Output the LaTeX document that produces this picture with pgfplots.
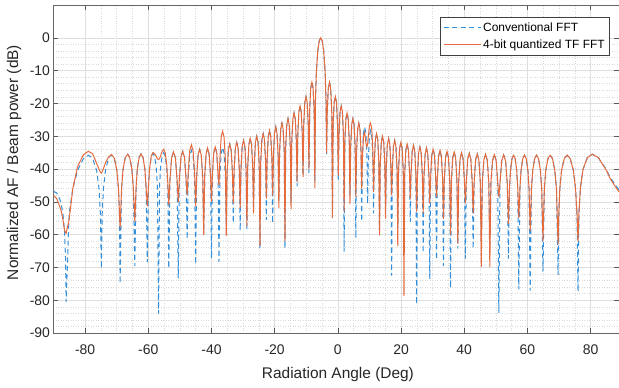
\documentclass[border=0pt]{standalone}
\usepackage{pgfplots}
\usepackage{pgfplotstable}
\pgfplotsset{compat=1.18}
\usepackage{fontspec}
\setmainfont{Liberation Sans}
\definecolor{mblue}{rgb}{0.20,0.56,0.85}
\definecolor{morange}{rgb}{0.90,0.42,0.24}
\pgfplotstableread{
x b o
-90.00 -46.8 -48.0
-89.00 -47.3 -49.0
-88.00 -49.2 -51.5
-87.50 -51.0 -53.0
-87.00 -53.8 -55.5
-86.50 -59.3 -58.6
-86.20 -66.8 -59.4
-86.00 -80.5 -59.6
-85.05 -53.8 -55.5
-83.90 -46.0 -46.0
-82.36 -40.4 -39.2
-80.50 -36.8 -35.6
-78.94 -35.8 -34.6
-77.58 -36.8 -35.4
-76.35 -40.4 -38.3
-75.59 -46.0 -40.0
-75.15 -53.8 -41.0
-74.85 -70.3 -41.2
-74.58 -53.6 -40.9
-74.17 -45.8 -39.8
-73.51 -40.2 -38.0
-72.56 -36.6 -36.3
-71.65 -35.6 -35.6
-70.79 -36.6 -36.6
-69.97 -40.2 -40.2
-69.43 -45.8 -45.8
-69.12 -53.6 -53.6
-68.91 -74.9 -58.1
-68.44 -45.7 -45.7
-67.98 -40.1 -40.1
-67.28 -36.5 -36.5
-66.50 -35.5 -35.5
-65.89 -36.5 -36.5
-65.19 -40.1 -40.1
-64.73 -45.7 -45.7
-64.26 -69.5 -56.0
-63.86 -45.6 -45.6
-63.47 -40.0 -40.0
-62.87 -36.4 -36.4
-62.28 -35.4 -35.4
-61.68 -36.4 -36.4
-61.08 -40.0 -40.0
-60.69 -45.6 -45.6
-60.29 -68.4 -51.4
-59.94 -45.4 -45.4
-59.58 -39.8 -39.8
-59.05 -36.2 -36.0
-58.52 -35.2 -35.0
-57.99 -36.2 -35.3
-57.46 -39.8 -36.2
-57.10 -45.4 -36.9
-56.75 -84.1 -37.1
-56.43 -45.2 -36.8
-56.10 -39.6 -36.0
-55.62 -36.0 -34.6
-55.13 -35.0 -34.0
-54.64 -36.0 -35.0
-54.16 -39.6 -38.6
-53.83 -45.2 -44.2
-53.51 -70.3 -51.0
-53.15 -43.5 -43.5
-52.61 -36.6 -36.6
-52.01 -34.8 -34.8
-51.41 -36.6 -36.6
-50.87 -43.5 -43.5
-50.51 -73.3 -50.0
-50.17 -43.3 -43.3
-49.66 -36.4 -36.4
-49.10 -34.6 -34.6
-48.54 -36.4 -36.4
-48.03 -43.3 -43.3
-47.69 -61.4 -48.0
-47.37 -43.0 -41.3
-46.89 -36.1 -34.4
-46.35 -34.3 -32.6
-45.81 -36.1 -34.4
-45.33 -43.0 -41.3
-45.01 -69.0 -51.4
-44.70 -42.7 -42.7
-44.24 -35.8 -35.8
-43.73 -34.0 -34.0
-43.22 -35.8 -35.8
-42.76 -42.7 -42.7
-42.45 -60.0 -60.1
-42.15 -42.3 -42.3
-41.71 -35.5 -35.5
-41.22 -33.6 -33.6
-40.73 -35.5 -35.5
-40.29 -42.3 -42.3
-39.99 -67.3 -50.0
-39.71 -42.0 -42.0
-39.28 -35.1 -35.1
-38.81 -33.3 -33.3
-38.33 -35.1 -35.1
-37.90 -42.0 -42.0
-37.62 -68.3 -45.0
-37.34 -42.1 -37.2
-36.93 -35.2 -30.3
-36.47 -33.4 -28.5
-36.01 -35.2 -30.3
-35.60 -42.1 -37.2
-35.32 -57.0 -60.3
-35.05 -41.1 -41.1
-34.65 -34.2 -34.2
-34.21 -32.4 -32.4
-33.76 -34.2 -34.2
-33.36 -41.1 -41.1
-33.09 -56.5 -50.5
-32.83 -40.5 -40.5
-32.44 -33.7 -33.7
-32.00 -31.9 -31.9
-31.56 -33.7 -33.7
-31.17 -40.5 -40.5
-30.91 -58.8 -52.0
-30.65 -40.0 -40.0
-30.27 -33.1 -33.1
-29.85 -31.3 -31.3
-29.42 -33.1 -33.1
-29.04 -40.0 -40.0
-28.78 -58.6 -57.5
-28.53 -39.3 -39.3
-28.15 -32.5 -32.5
-27.74 -30.7 -30.7
-27.32 -32.5 -32.5
-26.94 -39.3 -39.3
-26.69 -52.0 -53.5
-26.44 -38.6 -38.6
-26.08 -31.8 -31.8
-25.67 -30.0 -30.0
-25.26 -31.8 -31.8
-24.89 -38.6 -38.6
-24.64 -64.2 -63.5
-24.40 -37.8 -37.8
-24.03 -31.0 -31.0
-23.63 -29.2 -29.2
-23.23 -31.0 -31.0
-22.86 -37.8 -37.8
-22.62 -55.5 -49.0
-22.38 -36.9 -36.9
-22.02 -30.1 -30.1
-21.63 -28.3 -28.3
-21.23 -30.1 -30.1
-20.87 -36.9 -36.9
-20.63 -56.5 -48.0
-20.39 -35.9 -35.9
-20.04 -29.1 -29.1
-19.65 -27.2 -27.2
-19.26 -29.1 -29.1
-18.91 -35.9 -35.9
-18.67 -50.0 -51.9
-18.44 -34.7 -34.7
-18.09 -27.9 -27.9
-17.70 -26.0 -26.0
-17.31 -27.9 -27.9
-16.96 -34.7 -34.7
-16.73 -64.2 -62.0
-16.50 -33.3 -33.3
-16.15 -26.5 -26.5
-15.77 -24.6 -24.6
-15.39 -26.5 -26.5
-15.04 -33.3 -33.3
-14.81 -50.0 -52.2
-14.58 -31.6 -31.6
-14.24 -24.8 -24.8
-13.86 -22.9 -22.9
-13.47 -24.8 -24.8
-13.13 -31.6 -31.6
-12.90 -45.3 -44.0
-12.67 -29.5 -29.5
-12.33 -22.6 -22.6
-11.96 -20.8 -20.8
-11.58 -22.6 -22.6
-11.24 -29.5 -29.5
-11.01 -42.0 -42.5
-10.79 -26.6 -26.6
-10.45 -19.7 -19.7
-10.08 -17.9 -17.9
-9.70 -19.7 -19.7
-9.36 -26.6 -26.6
-9.14 -41.2 -40.0
-8.92 -22.1 -22.1
-8.58 -15.3 -15.3
-8.21 -13.5 -13.5
-7.83 -15.3 -15.3
-7.49 -22.1 -22.1
-7.27 -44.0 -45.8
-7.08 -19.2 -19.2
-6.80 -10.5 -10.5
-6.34 -3.9 -3.9
-5.87 -0.9 -0.9
-5.41 0.0 0.0
-4.95 -0.9 -0.9
-4.48 -3.9 -3.9
-4.02 -10.5 -10.5
-3.74 -19.2 -19.2
-3.56 -35.5 -35.1
-3.34 -22.1 -22.1
-3.01 -15.3 -15.3
-2.64 -13.5 -13.5
-2.27 -15.3 -15.3
-1.93 -22.1 -22.1
-1.71 -53.0 -55.0
-1.49 -26.6 -26.6
-1.16 -19.7 -19.7
-0.79 -17.9 -17.9
-0.42 -19.7 -19.7
-0.09 -26.6 -26.6
0.14 -43.3 -42.0
0.36 -29.5 -29.5
0.70 -22.6 -22.6
1.07 -20.8 -20.8
1.44 -22.6 -22.6
1.77 -29.5 -29.5
1.99 -65.2 -53.0
2.21 -31.6 -31.6
2.55 -24.8 -24.8
2.92 -22.9 -22.9
3.29 -24.8 -24.8
3.62 -31.6 -31.6
3.84 -48.0 -50.7
4.06 -33.3 -33.3
4.40 -26.5 -26.5
4.77 -24.6 -24.6
5.14 -26.5 -26.5
5.48 -33.3 -33.3
5.70 -61.1 -48.5
5.92 -34.7 -34.7
6.26 -27.9 -27.9
6.63 -26.0 -26.0
7.00 -27.9 -27.9
7.34 -34.7 -34.7
7.56 -56.0 -46.0
7.78 -35.9 -36.5
8.12 -29.1 -30.0
8.50 -27.2 -28.8
8.87 -29.1 -32.0
9.21 -35.9 -33.2
9.43 -50.5 -32.5
9.66 -36.9 -30.0
10.00 -30.1 -26.8
10.37 -28.3 -26.0
10.75 -30.1 -27.8
11.08 -36.9 -34.7
11.31 -53.5 -47.0
11.54 -37.8 -37.8
11.88 -31.0 -31.0
12.26 -29.2 -29.2
12.63 -31.0 -31.0
12.97 -37.8 -37.8
13.20 -58.0 -60.2
13.43 -38.6 -38.6
13.77 -31.8 -31.8
14.15 -30.0 -30.0
14.53 -31.8 -31.8
14.87 -38.6 -38.6
15.10 -53.0 -55.1
15.33 -39.3 -39.3
15.68 -32.5 -32.5
16.07 -30.7 -30.7
16.45 -32.5 -32.5
16.80 -39.3 -39.3
17.03 -72.5 -48.0
17.26 -40.0 -40.0
17.61 -33.1 -33.1
18.00 -31.3 -31.3
18.39 -33.1 -33.1
18.74 -40.0 -40.0
18.97 -58.0 -63.4
19.21 -40.5 -40.5
19.56 -33.7 -33.7
19.96 -31.9 -31.9
20.35 -33.7 -33.7
20.70 -40.5 -40.5
20.94 -65.0 -78.7
21.18 -41.1 -41.1
21.54 -34.2 -34.2
21.94 -32.4 -32.4
22.33 -34.2 -34.2
22.69 -41.1 -41.1
22.93 -56.1 -49.0
23.17 -41.5 -41.5
23.54 -34.7 -34.7
23.94 -32.8 -32.8
24.34 -34.7 -34.7
24.71 -41.5 -41.5
24.95 -81.2 -53.0
25.20 -42.0 -42.0
25.57 -35.1 -35.1
25.98 -33.3 -33.3
26.39 -35.1 -35.1
26.76 -42.0 -42.0
27.01 -65.5 -53.5
27.26 -42.3 -42.3
27.64 -35.5 -35.5
28.06 -33.6 -33.6
28.47 -35.5 -35.5
28.85 -42.3 -42.3
29.10 -73.5 -50.5
29.36 -42.7 -42.7
29.74 -35.8 -35.8
30.17 -34.0 -34.0
30.60 -35.8 -35.8
30.98 -42.7 -42.7
31.24 -67.6 -48.5
31.50 -43.0 -43.0
31.90 -36.1 -36.1
32.34 -34.3 -34.3
32.77 -36.1 -36.1
33.17 -43.0 -43.0
33.43 -69.5 -55.2
33.70 -43.2 -43.2
34.11 -36.4 -36.4
34.56 -34.6 -34.6
35.01 -36.4 -36.4
35.41 -43.2 -43.2
35.68 -76.3 -60.0
35.96 -43.5 -43.5
36.37 -36.6 -36.6
36.83 -34.8 -34.8
37.29 -36.6 -36.6
37.70 -43.5 -43.5
37.98 -64.3 -62.8
38.27 -43.7 -43.7
38.70 -36.9 -36.9
39.18 -35.0 -35.0
39.65 -36.9 -36.9
40.08 -43.7 -43.7
40.37 -67.3 -50.5
40.67 -43.9 -43.9
41.11 -37.0 -37.0
41.61 -35.2 -35.2
42.10 -37.0 -37.0
42.54 -43.9 -43.9
42.84 -64.3 -53.5
43.15 -44.1 -44.1
43.61 -37.2 -37.2
44.13 -35.4 -35.4
44.64 -37.2 -37.2
45.10 -44.1 -44.1
45.41 -62.0 -69.8
45.73 -44.2 -44.2
46.22 -37.3 -37.3
46.76 -35.5 -35.5
47.30 -37.3 -37.3
47.79 -44.2 -44.2
48.11 -63.0 -69.8
48.45 -44.3 -44.3
48.97 -37.4 -37.4
49.54 -35.6 -35.6
50.11 -37.4 -37.4
50.62 -44.3 -44.3
50.96 -83.9 -48.6
51.32 -44.4 -44.4
51.87 -37.5 -37.5
52.48 -35.7 -35.7
53.09 -37.5 -37.5
53.64 -44.4 -44.4
54.00 -67.3 -56.8
54.33 -46.0 -46.0
54.66 -40.4 -40.4
55.15 -36.8 -36.8
55.64 -35.8 -35.8
56.13 -36.8 -36.8
56.62 -40.4 -40.4
56.95 -46.0 -46.0
57.28 -76.7 -55.0
57.64 -46.0 -46.0
58.00 -40.4 -40.4
58.54 -36.8 -36.8
59.08 -35.8 -35.8
59.62 -36.8 -36.8
60.16 -40.4 -40.4
60.52 -46.0 -46.0
60.88 -77.1 -59.0
61.29 -46.0 -46.0
61.69 -40.4 -40.4
62.30 -36.8 -36.8
62.87 -35.8 -35.8
63.52 -36.8 -36.8
64.12 -40.4 -40.4
64.53 -46.0 -46.0
64.93 -71.3 -62.0
65.37 -46.0 -46.0
65.82 -40.4 -40.4
66.50 -36.8 -36.8
67.21 -35.8 -35.8
67.93 -36.8 -36.8
68.68 -40.4 -40.4
69.20 -46.0 -46.0
69.72 -72.3 -63.0
69.94 -53.8 -53.8
70.27 -46.0 -46.0
70.82 -40.4 -40.4
71.68 -36.8 -36.8
72.59 -35.8 -35.8
73.54 -36.8 -36.8
74.55 -40.4 -40.4
75.25 -46.0 -46.0
75.70 -53.8 -53.8
76.03 -77.4 -62.0
76.31 -53.5 -53.5
76.79 -45.7 -45.7
77.62 -40.1 -40.1
78.99 -36.5 -36.5
80.55 -35.5 -35.5
82.42 -36.5 -36.5
84.94 -40.1 -40.3
86.13 -42.4 -42.8
87.92 -45.0 -45.5
89.00 -46.3 -47.0
}\afdata
\begin{document}
\begin{tikzpicture}
\begin{axis}[
  at={(53.5bp,55bp)}, anchor=south west,
  scale only axis, width=565.5bp, height=328bp,
  xmin=-90, xmax=89, ymin=-90, ymax=10,
  xtick={-80,-60,...,80}, ytick={-90,-80,...,0},
  minor x tick num=3, minor y tick num=4,
  grid=both,
  major grid style={black!13, line width=0.5bp},
  minor grid style={black!15, line width=0.5bp, dotted},
  major tick length=5bp, minor tick length=0bp,
  tick style={black!65, line width=0.6bp},
  axis line style={black!60, line width=0.8bp},
  /pgf/number format/assume math mode=true,
  tick label style={font=\fontsize{14}{16}\selectfont, text=black!85},
  xticklabel style={yshift=-8bp},
  xlabel={Radiation Angle (Deg)},
  ylabel={Normalized AF / Beam power (dB)},
  xlabel style={font=\fontsize{15.5}{18}\selectfont, text=black!85, at={(axis description cs:0.503,0)}, anchor=base, yshift=-45bp},
  ylabel style={font=\fontsize{15.5}{18}\selectfont, text=black!85, at={(axis description cs:-0.0698,0.52)}, anchor=center},
  legend style={at={(rel axis cs:0.984,0.963)}, anchor=north east, draw=black!75, line width=0.5bp, fill=white, font=\fontsize{12}{14}\selectfont, inner xsep=3bp, inner ysep=3.5bp, row sep=2.5bp},
  legend cell align=left,
  legend image code/.code={\draw[#1] (0bp,0bp) -- (37bp,0bp);},
]
\addplot[mblue, line width=1bp, dash pattern=on 5bp off 3.5bp] table[x=x, y=b] {\afdata};
\addlegendentry{Conventional FFT}
\addplot[morange, line width=1bp] table[x=x, y=o] {\afdata};
\addlegendentry{4-bit quantized TF FFT}
\end{axis}
\pgfresetboundingbox
\path[use as bounding box] (0,0) rectangle (619bp,388bp);
\end{tikzpicture}
\end{document}
